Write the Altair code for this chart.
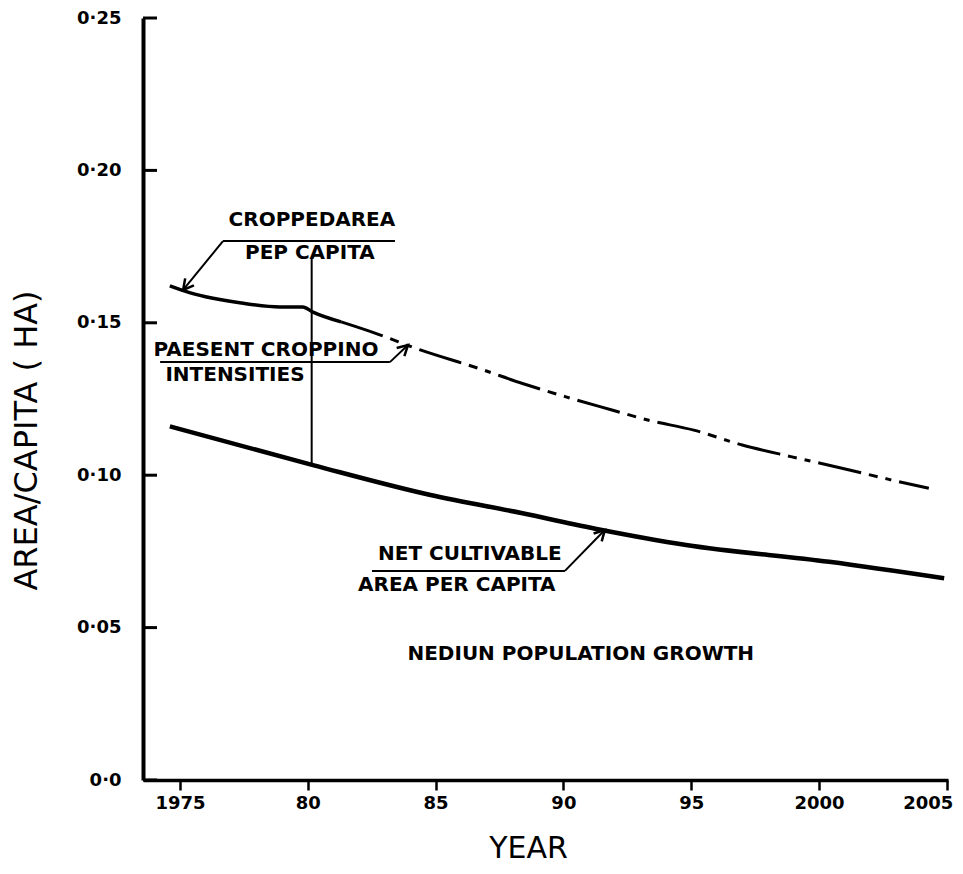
import altair as alt
import pandas as pd

# ---- data ----
net_years = [1974.6, 1980.2, 1984.8, 1988.4, 1991.4, 1994.8, 2000.4, 2004.9]
net_vals = [0.1160, 0.1033, 0.0935, 0.0875, 0.0822, 0.0771, 0.0716, 0.0662]

crop_solid_years = [1974.6, 1975.4, 1977.4, 1978.9, 1979.8, 1980.2, 1981.3]
crop_solid_vals = [0.1621, 0.1598, 0.1565, 0.1552, 0.1552, 0.1535, 0.1503]

crop_dash_years = [1981.3, 1982.6, 1984.4, 1986.7, 1988.4, 1990.1, 1991.9,
                   1993.3, 1995.1, 1997.0, 1998.9, 2000.9, 2002.7, 2004.3]
crop_dash_vals = [0.1503, 0.1467, 0.1411, 0.1350, 0.1301, 0.1257, 0.1214,
                  0.1181, 0.1148, 0.1099, 0.1061, 0.1023, 0.0987, 0.0957]

x_tick_values = [1975, 1980, 1985, 1990, 1995, 2000, 2005]
x_tick_labels = ["1975", "80", "85", "90", "95", "2000", "2005"]
y_tick_values = [0.0, 0.05, 0.10, 0.15, 0.20, 0.25]
y_tick_labels = ["0·0", "0·05", "0·10", "0·15", "0·20", "0·25"]

ann_text = ["CROPPEDAREA", "PEP  CAPITA", "PAESENT CROPPINO", "INTENSITIES",
            "NET  CULTIVABLE", "AREA  PER  CAPITA", "NEDIUN  POPULATION  GROWTH"]
ann_x = [1980.16, 1980.08, 1978.36, 1977.15, 1986.34, 1985.83, 1990.68]
ann_y = [0.1837, 0.1729, 0.1411, 0.1329, 0.0741, 0.0640, 0.0413]

seg_x1 = [1976.68, 1976.68, 1980.15, 1974.22, 1983.21, 1982.51, 1990.06]
seg_y1 = [0.1768, 0.1768, 0.1713, 0.1371, 0.1371, 0.0686, 0.0686]
seg_x2 = [1983.41, 1975.12, 1980.15, 1983.21, 1983.92, 1990.06, 1991.62]
seg_y2 = [0.1768, 0.1608, 0.1033, 0.1371, 0.1427, 0.0686, 0.0820]

arrow_x = [1975.12, 1983.92, 1991.62]
arrow_y = [0.1608, 0.1427, 0.0820]
arrow_angle = [219, 47, 44]

# ---- tables ----
net_df = pd.DataFrame({"year": net_years, "val": net_vals})
crop_solid_df = pd.DataFrame({"year": crop_solid_years, "val": crop_solid_vals})
crop_dash_df = pd.DataFrame({"year": crop_dash_years, "val": crop_dash_vals})
ann_df = pd.DataFrame({"year": ann_x, "val": ann_y, "text": ann_text})
seg_df = pd.DataFrame({"x1": seg_x1, "y1": seg_y1, "x2": seg_x2, "y2": seg_y2})
arrow_df = pd.DataFrame({"year": arrow_x, "val": arrow_y, "angle": arrow_angle})
ytick_df = pd.DataFrame({"val": y_tick_values})


def label_expr(values, labels):
    expr = "''"
    for v, l in reversed(list(zip(values, labels))):
        expr = f"abs(datum.value - {v}) < 1e-6 ? '{l}' : ({expr})"
    return expr


FONT = "DejaVu Sans"
xscale = alt.Scale(domain=[1973.55, 2005.05], nice=False, zero=False)
yscale = alt.Scale(domain=[0, 0.25], nice=False, zero=True)

x_axis = alt.Axis(
    values=x_tick_values, labelExpr=label_expr(x_tick_values, x_tick_labels),
    title="YEAR", titleFont=FONT, titleFontSize=30, titleFontWeight="normal",
    titleColor="black", titleX=385, titleY=68, titleBaseline="middle",
    domainColor="black", domainWidth=3.5, tickColor="black", tickWidth=2.5,
    tickSize=10, labelFont=FONT, labelFontSize=18, labelFontWeight="bold",
    labelColor="black", labelPadding=4, labelFlush=False, labelOverlap=False,
    labelOffset=alt.ExprRef(expr="datum.value >= 2005 ? -19 : 0"),
    grid=False,
)
y_axis = alt.Axis(
    values=y_tick_values, labelExpr=label_expr(y_tick_values, y_tick_labels),
    title="AREA/CAPITA ( HA)", titleFont=FONT, titleFontSize=32,
    titleFontWeight="normal", titleColor="black", titleX=-117, titleY=422,
    titleBaseline="middle", titleAngle=270,
    domainColor="black", domainWidth=4, ticks=False,
    labelFont=FONT, labelFontSize=18, labelFontWeight="bold", labelColor="black",
    labelPadding=22, labelFlush=False, labelOverlap=False, grid=False,
)

base_x = alt.X("year:Q", scale=xscale, axis=x_axis)
base_y = alt.Y("val:Q", scale=yscale, axis=y_axis)

net_line = alt.Chart(net_df).mark_line(
    color="black", strokeWidth=4.5, interpolate="monotone"
).encode(x=base_x, y=base_y)

crop_solid = alt.Chart(crop_solid_df).mark_line(
    color="black", strokeWidth=3.5, interpolate="monotone"
).encode(x=alt.X("year:Q", scale=xscale), y=alt.Y("val:Q", scale=yscale))

crop_dash = alt.Chart(crop_dash_df).mark_line(
    color="black", strokeWidth=3, strokeDash=[44, 8, 9, 8, 6, 8],
    interpolate="monotone"
).encode(x=alt.X("year:Q", scale=xscale), y=alt.Y("val:Q", scale=yscale))

segs = alt.Chart(seg_df).mark_rule(color="black", strokeWidth=2).encode(
    x=alt.X("x1:Q", scale=xscale), y=alt.Y("y1:Q", scale=yscale),
    x2="x2:Q", y2="y2:Q",
)

arrows = alt.Chart(arrow_df).mark_point(
    shape="M -0.55 1 L 0 0 L 0.55 1", filled=False, stroke="black",
    strokeWidth=2.5, size=420, opacity=1,
).encode(
    x=alt.X("year:Q", scale=xscale), y=alt.Y("val:Q", scale=yscale),
    angle=alt.Angle("angle:Q", scale=None),
)

texts = alt.Chart(ann_df).mark_text(
    font=FONT, fontSize=20, fontWeight="bold", color="black",
    align="center", baseline="middle",
).encode(
    x=alt.X("year:Q", scale=xscale), y=alt.Y("val:Q", scale=yscale), text="text:N",
)

yticks = alt.Chart(ytick_df).mark_rule(color="black", strokeWidth=3).encode(
    y=alt.Y("val:Q", scale=yscale), x=alt.value(0), x2=alt.value(14),
)

chart = alt.layer(
    net_line, crop_solid, crop_dash, segs, arrows, texts, yticks
).properties(
    width=805, height=762,
    autosize=alt.AutoSizeParams(type="none"),
    padding={"left": 135, "top": 10, "right": 7, "bottom": 90},
    background="white",
).configure_view(stroke=None)

chart.save("out.html", embed_options={"renderer": "svg", "actions": False})
